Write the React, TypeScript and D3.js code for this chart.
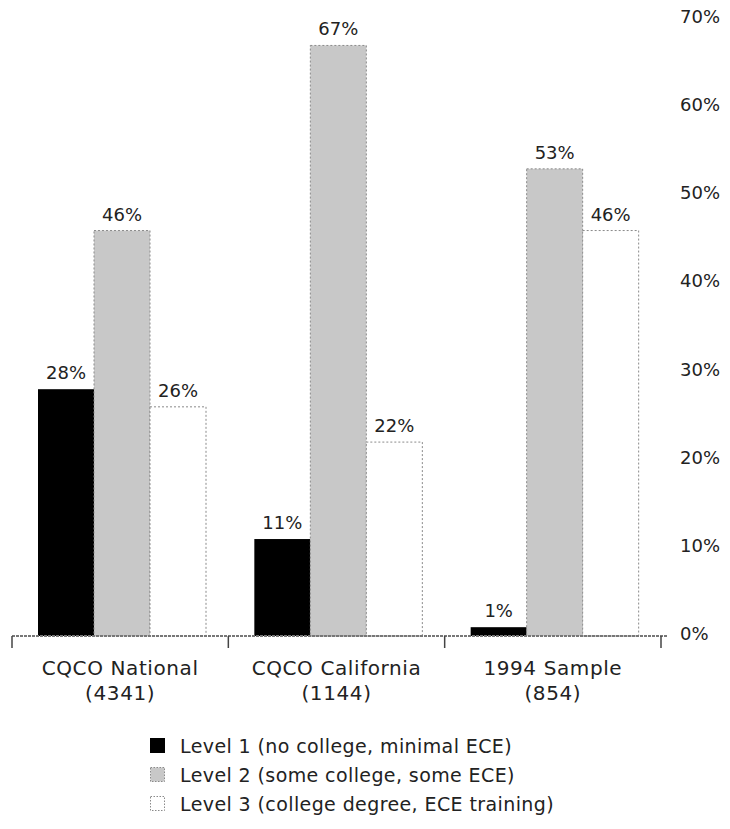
import React from "react";
import * as d3 from "d3";

const groups = ["CQCO National", "CQCO California", "1994 Sample"];
const groupCounts = ["(4341)", "(1144)", "(854)"];
const seriesNames = [
  "Level 1 (no college, minimal ECE)",
  "Level 2 (some college, some ECE)",
  "Level 3 (college degree, ECE training)",
];
const level1 = [28, 11, 1];
const level2 = [46, 67, 53];
const level3 = [26, 22, 46];
const yTicks = [0, 10, 20, 30, 40, 50, 60, 70];

const W = 730;
const H = 829;
const FONT = "'DejaVu Sans', sans-serif";
const fills = ["#000000", "#c8c8c8", "#ffffff"];
const strokes = ["#000000", "#8a8a8a", "#8a8a8a"];

export default function App() {
  const series = [level1, level2, level3];
  const x0 = d3.scaleBand<string>().domain(groups).range([12, 661]).paddingInner(0).paddingOuter(0);
  const x1 = d3
    .scaleBand<number>()
    .domain([0, 1, 2])
    .range([26, 26 + 168])
    .padding(0);
  const y = d3.scaleLinear().domain([0, 70]).range([636, 19]);
  const baseY = y(0);

  return (
    <svg
      width={W}
      height={H}
      style={{ position: "absolute", left: 0, top: 0, background: "#fff" }}
      fontFamily={FONT}
    >
      {/* bars */}
      {groups.map((g, gi) => (
        <g key={g} transform={`translate(${x0(g)},0)`}>
          {series.map((s, si) => {
            const v = s[gi];
            const bx = x1(si)!;
            const bw = x1.bandwidth();
            const top = y(v);
            return (
              <g key={si}>
                <rect
                  x={bx}
                  y={top}
                  width={bw}
                  height={baseY - top}
                  fill={fills[si]}
                  stroke={strokes[si]}
                  strokeWidth={si === 0 ? 0 : 1}
                  strokeDasharray={si === 0 ? undefined : "2,2"}
                />
                <text
                  x={bx + bw / 2}
                  y={top - 10}
                  textAnchor="middle"
                  fontSize={18}
                  fill="#222"
                >
                  {v}%
                </text>
              </g>
            );
          })}
        </g>
      ))}

      {/* baseline */}
      <line x1={12} x2={668} y1={baseY} y2={baseY} stroke="#777" strokeWidth={2} strokeDasharray="3,1" />
      {[0, 1, 2, 3].map((i) => {
        const xx = i < 3 ? x0(groups[i])! : x0(groups[2])! + x0.bandwidth();
        return <line key={i} x1={xx} x2={xx} y1={baseY} y2={baseY + 12} stroke="#444" strokeWidth={1.5} />;
      })}

      {/* category labels */}
      {groups.map((g, gi) => (
        <g key={g}>
          <text x={x0(g)! + x0.bandwidth() / 2} y={675} textAnchor="middle" fontSize={20} letterSpacing={0.6} fill="#222">
            {g}
          </text>
          <text x={x0(g)! + x0.bandwidth() / 2} y={700} textAnchor="middle" fontSize={20} letterSpacing={0.6} fill="#222">
            {groupCounts[gi]}
          </text>
        </g>
      ))}

      {/* right axis labels */}
      {yTicks.map((t) => (
        <text key={t} x={680} y={y(t) + 4} fontSize={18} fill="#222">
          {t}%
        </text>
      ))}

      {/* legend */}
      {seriesNames.map((n, i) => (
        <g key={n} transform={`translate(150,${746 + i * 29})`}>
          <rect
            x={0.5}
            y={-7.5}
            width={14}
            height={14}
            fill={fills[i]}
            stroke={strokes[i]}
            strokeDasharray={i === 0 ? undefined : "1.5,1.5"}
          />
          <text x={30} y={7} fontSize={19} letterSpacing={0.4} fill="#222">
            {n}
          </text>
        </g>
      ))}
    </svg>
  );
}
